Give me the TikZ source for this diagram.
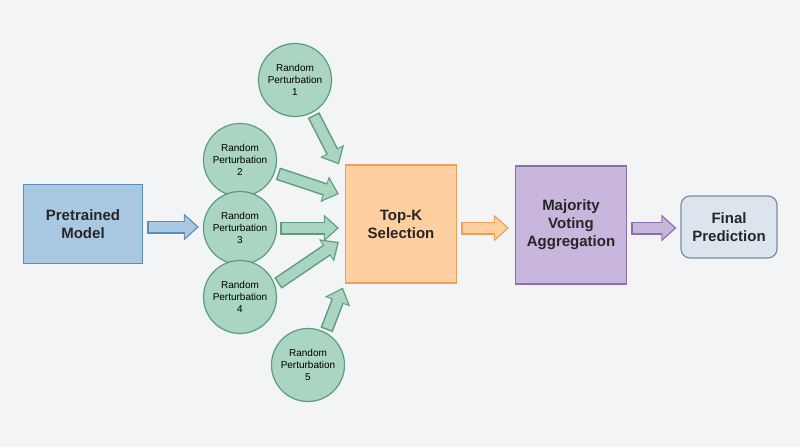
\documentclass[tikz,border=0pt]{standalone}
\usepackage{fontspec}
\setmainfont{Liberation Sans}
\usetikzlibrary{arrows.meta,calc}
\definecolor{bg}{HTML}{F2F4F6}
\definecolor{bfill}{HTML}{A9C8E2}\definecolor{bdraw}{HTML}{5B8DB8}
\definecolor{gfill}{HTML}{A9D5C1}\definecolor{gdraw}{HTML}{5E9C82}
\definecolor{ofill}{HTML}{FFCF9F}\definecolor{odraw}{HTML}{EE9F55}
\definecolor{pfill}{HTML}{C8B6DC}\definecolor{pdraw}{HTML}{8A6FAE}
\definecolor{ffill}{HTML}{DCE4EE}\definecolor{fdraw}{HTML}{7B8DA6}
\begin{document}
\begin{tikzpicture}[x=1pt,y=-1pt,
 box/.style={draw=#1draw,fill=#1fill,line width=1.2pt,minimum width=119pt,minimum height=79pt,font=\bfseries\fontsize{15}{18}\selectfont,text=black!85,align=center},
 circ/.style={circle,draw=gdraw,fill=gfill,line width=1.2pt,minimum size=73pt,inner sep=0pt,font=\fontsize{10}{12}\selectfont,align=center},
 fat/.style={line width=13pt,draw=#1draw,-{Triangle[length=15pt,width=26pt]},
   postaction={draw=#1fill,line width=10pt,-{Triangle[length=12pt,width=21pt]},shorten >=2pt,shorten <=1.5pt}}]
\fill[bg] (0,0) rectangle (800,447);
\useasboundingbox (0,0) rectangle (800,447);
\node[box=b] (pm) at (83,224) {Pretrained\\Model};
\node[box=o,minimum width=111pt,minimum height=118pt] (tk) at (401,224) {Top-K\\Selection};
\node[box=p,minimum width=111pt,minimum height=118pt] (mv) at (571,225) {Majority\\Voting\\Aggregation};
\node[box=f,rounded corners=9pt,minimum width=96pt,minimum height=62pt] (fp) at (729,227) {Final\\Prediction};
\node[circ] (c1) at (295,80) {Random\\Perturbation\\1};
\node[circ] (c2) at (240,160) {Random\\Perturbation\\2};
\node[circ] (c3) at (240,228) {Random\\Perturbation\\3};
\node[circ] (c4) at (240,297) {Random\\Perturbation\\4};
\node[circ] (c5) at (308,365) {Random\\Perturbation\\5};
\draw[fat=b] ($(pm.east)+(4,3)$) -- ($(c3.west)+(-4,-1)$);
\draw[fat=g] ($(c1.-60)+(0,3)$) -- ($(tk.north west)+(-6,0)$);
\draw[fat=g] ($(c2.-20)+(3,1)$) -- ($(tk.west)+(-6,-30)$);
\draw[fat=g] ($(c3.east)+(3,0)$) -- ($(tk.west)+(-6,4)$);
\draw[fat=g] ($(c4.20)+(3,-1)$) -- ($(tk.west)+(-6,18)$);
\draw[fat=g] ($(c5.60)+(0,-3)$) -- ($(tk.south west)+(-2,4)$);
\draw[fat=o] ($(tk.east)+(4,4)$) -- ($(mv.west)+(-6,3)$);
\draw[fat=p] ($(mv.east)+(4,3)$) -- ($(fp.west)+(-4,1)$);
\end{tikzpicture}
\end{document}
